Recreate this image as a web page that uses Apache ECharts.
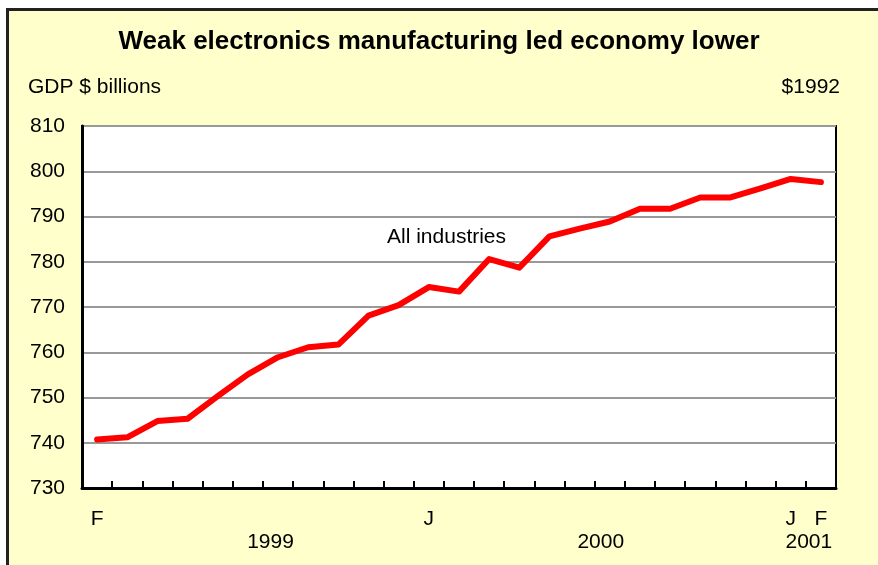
<!DOCTYPE html>
<html>
<head>
<meta charset="utf-8">
<script src="https://cdn.jsdelivr.net/npm/echarts@6/dist/echarts.min.js"></script>
<style>
  html, body { margin: 0; padding: 0; background: #ffffff; overflow: hidden; }
  #frame {
    position: absolute; left: 6px; top: 8px; width: 900px; height: 600px;
    background: #ffffcc; border: 3px solid #222222;
  }
  #chart { position: absolute; left: 0; top: 0; width: 878px; height: 565px; }
</style>
</head>
<body>
<div id="frame"></div>
<div id="chart"></div>
<script>
// monthly, Feb 1999 .. Feb 2001
var categories = [
  "1999-02", "1999-03", "1999-04", "1999-05", "1999-06", "1999-07",
  "1999-08", "1999-09", "1999-10", "1999-11", "1999-12",
  "2000-01", "2000-02", "2000-03", "2000-04", "2000-05", "2000-06",
  "2000-07", "2000-08", "2000-09", "2000-10", "2000-11", "2000-12",
  "2001-01", "2001-02"
];
var allIndustries = [
  740.7, 741.2, 744.8, 745.3, 750.3, 755.1, 758.9, 761.1, 761.7, 768.1,
  770.4, 774.4, 773.4, 780.6, 778.7, 785.6, 787.3, 788.9, 791.7, 791.7,
  794.2, 794.2, 796.2, 798.3, 797.6
];
var monthTickLabels = { "1999-02": "F", "2000-01": "J", "2001-01": "J", "2001-02": "F" };
var yearLabelPos = [5.75, 16.7, 23.6];
var yearLabelText = ["1999", "2000", "2001"];

var chart = echarts.init(document.getElementById("chart"));
var font = "Arial, 'Liberation Sans', sans-serif";

var option = {
  backgroundColor: "transparent",
  animation: false,
  title: {
    text: "Weak electronics manufacturing led economy lower",
    left: "center",
    top: 24,
    textStyle: { fontFamily: font, fontSize: 26, fontWeight: "bold", color: "#000" }
  },
  graphic: [
    { type: "text", left: 28, top: 77, style: { text: "GDP $ billions", font: "21px " + font, fill: "#000" } },
    { type: "text", right: 38, top: 77, style: { text: "$1992", font: "21px " + font, fill: "#000" } },
    { type: "text", left: 387, top: 227, style: { text: "All industries", font: "21px " + font, fill: "#000" } }
  ],
  grid: { left: 82, right: 42, top: 126, bottom: 77, show: true, backgroundColor: "#ffffff", borderColor: "#000", borderWidth: 2 },
  xAxis: [
    {
      type: "category",
      data: categories,
      boundaryGap: true,
      axisLine: { lineStyle: { color: "#000", width: 3 } },
      axisTick: { show: true, inside: true, length: 7, lineStyle: { color: "#000", width: 2 } },
      axisLabel: {
        interval: 0,
        margin: 21,
        fontFamily: font, fontSize: 21, color: "#000",
        formatter: function (v) { return monthTickLabels[v] || ""; }
      },
      splitLine: { show: false }
    },
    {
      type: "value",
      position: "bottom",
      min: -0.5,
      max: 24.5,
      axisLine: { show: false },
      axisTick: { show: false },
      splitLine: { show: false },
      axisLabel: {
        customValues: yearLabelPos,
        margin: 44,
        fontFamily: font, fontSize: 21, color: "#000",
        formatter: function (v) {
          var i = yearLabelPos.indexOf(v);
          return i >= 0 ? yearLabelText[i] : "";
        }
      }
    }
  ],
  yAxis: {
    type: "value",
    min: 730,
    max: 810,
    interval: 10,
    axisLine: { show: true, onZero: false, lineStyle: { color: "#000", width: 3 } },
    axisTick: { show: false },
    axisLabel: { margin: 17, fontFamily: font, fontSize: 21, color: "#000" },
    splitLine: { lineStyle: { color: "#999999", width: 2 } }
  },
  series: [
    {
      name: "All industries",
      type: "line",
      xAxisIndex: 0,
      data: allIndustries,
      showSymbol: false,
      lineStyle: { color: "#ff0000", width: 6, cap: "round", join: "round" },
      itemStyle: { color: "#ff0000" }
    }
  ]
};
chart.setOption(option);
</script>
</body>
</html>
